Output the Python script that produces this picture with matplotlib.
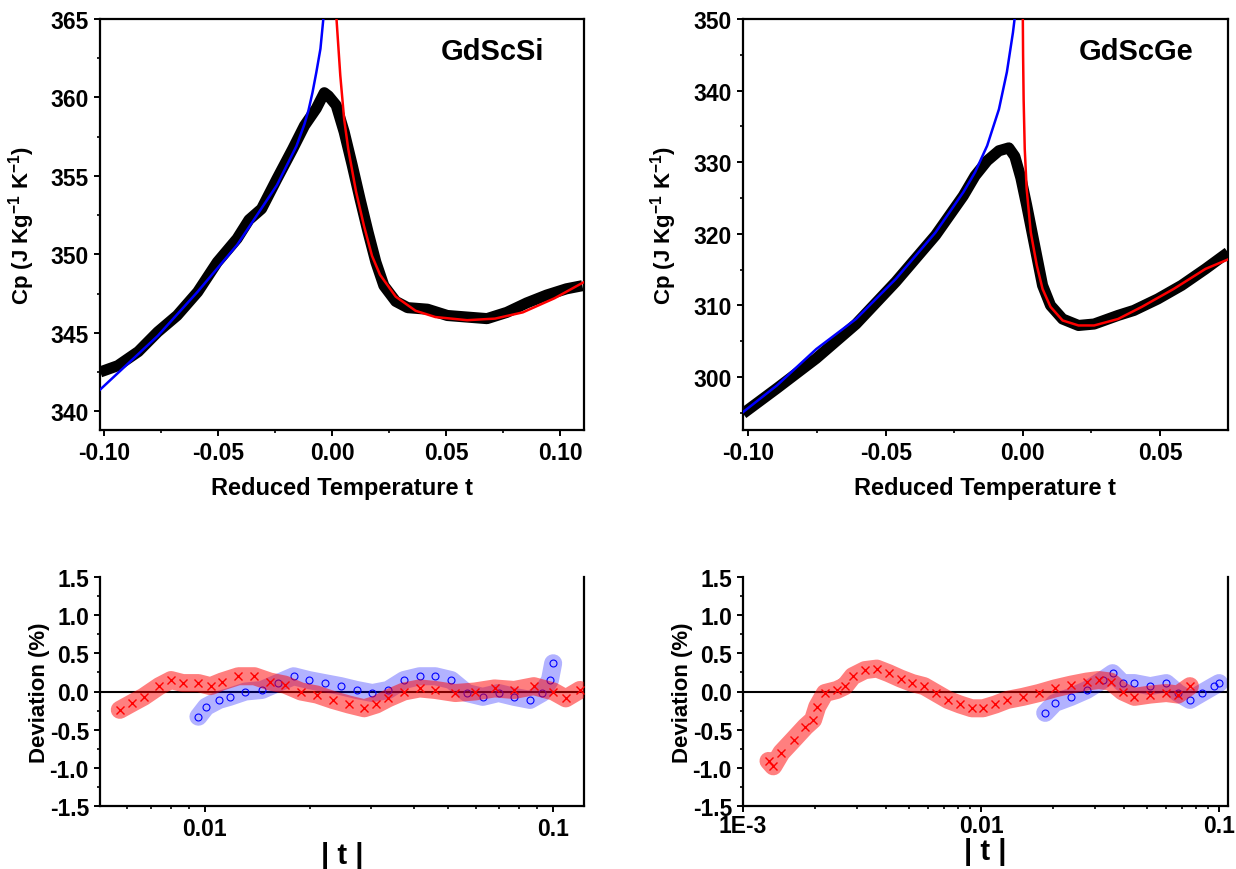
import matplotlib
matplotlib.use("Agg")
import matplotlib.pyplot as plt
from matplotlib.ticker import MultipleLocator, FixedLocator, FuncFormatter, FormatStrFormatter, NullFormatter, LogLocator

# GdScSi heat capacity (reduced temperature t, Cp)
si_t = [-0.1017, -0.094, -0.085, -0.0765, -0.068, -0.059, -0.0504, -0.0417, -0.0365, -0.031,
        -0.0243, -0.0174, -0.0122, -0.007, -0.0035, -0.0017, 0.0017, 0.0052, 0.0087, 0.0122,
        0.0157, 0.0191, 0.0226, 0.0278, 0.033, 0.0417, 0.0504, 0.059, 0.0678, 0.0765,
        0.0852, 0.0939, 0.1026, 0.1096]
si_cp = [342.5, 342.9, 343.8, 345.05, 346.1, 347.6, 349.5, 351.0, 352.2, 352.9,
         354.8, 356.7, 358.2, 359.3, 360.3, 360.1, 359.5, 357.8, 355.7, 353.5,
         351.4, 349.5, 348.0, 347.0, 346.6, 346.5, 346.1, 346.0, 345.9, 346.3,
         346.9, 347.4, 347.8, 348.0]
si_fit_lo_t = [-0.1023, -0.0765, -0.0591, -0.0417, -0.0243, -0.0157, -0.0122, -0.0104, -0.0087, -0.007, -0.0052, -0.0038]
si_fit_lo = [341.3, 344.8, 347.6, 350.6, 354.4, 356.9, 358.3, 359.2, 360.3, 361.6, 363.1, 365.2]
si_fit_hi_t = [0.0017, 0.0035, 0.0052, 0.007, 0.0104, 0.0139, 0.0174, 0.0209, 0.0278, 0.0365,
               0.0452, 0.0591, 0.0713, 0.0835, 0.0974, 0.1099]
si_fit_hi = [365.3, 361.4, 358.6, 356.7, 354.0, 351.8, 349.9, 348.7, 347.3, 346.4,
             346.0, 345.8, 345.9, 346.3, 347.2, 348.2]

# GdScGe heat capacity
ge_t = [-0.102, -0.0897, -0.0753, -0.0608, -0.0463, -0.0318, -0.0217, -0.0174, -0.013, -0.0087,
        -0.0051, -0.0029, -0.0007, 0.0014, 0.0043, 0.0072, 0.0101, 0.0145, 0.0203, 0.026,
        0.0347, 0.0405, 0.0492, 0.0579, 0.0666, 0.0748]
ge_cp = [294.9, 298.4, 302.6, 307.4, 313.3, 319.8, 325.3, 328.1, 330.2, 331.6,
         332.0, 330.8, 327.8, 324.0, 318.4, 312.8, 310.0, 308.1, 307.2, 307.4,
         308.6, 309.3, 310.9, 312.8, 315.1, 317.4]
ge_fit_lo_t = [-0.102, -0.0897, -0.0753, -0.0608, -0.0463, -0.0318, -0.0217, -0.0174, -0.013, -0.0087, -0.0058, -0.0036, -0.0029]
ge_fit_lo = [295.1, 298.8, 303.9, 308.1, 313.7, 320.2, 325.8, 328.6, 332.3, 337.4, 342.6, 348.1, 350.3]
ge_fit_hi_t = [0.0, 0.0001, 0.0003, 0.0007, 0.0014, 0.0029, 0.0051, 0.0072, 0.0101, 0.0145,
               0.0203, 0.026, 0.0347, 0.0434, 0.055, 0.0666, 0.0753]
ge_fit_hi = [350.3, 345.0, 338.8, 331.9, 326.3, 320.2, 315.6, 312.3, 309.8, 307.9,
             307.2, 307.2, 308.1, 309.8, 312.3, 315.1, 316.5]

# deviations (%) vs |t|, GdScSi
si_dev_lo_t = [0.0096, 0.0101, 0.011, 0.0118, 0.0131, 0.0146, 0.0162, 0.018, 0.0199, 0.0221,
               0.0246, 0.0273, 0.0303, 0.0336, 0.0373, 0.0414, 0.0459, 0.051, 0.0566, 0.0628,
               0.0697, 0.0773, 0.0858, 0.0929, 0.0979, 0.1]
si_dev_lo = [-0.33, -0.2, -0.11, -0.07, 0.0, 0.02, 0.11, 0.2, 0.15, 0.11,
             0.07, 0.02, -0.02, 0.02, 0.15, 0.2, 0.2, 0.15, -0.02, -0.07,
             -0.02, -0.07, -0.11, -0.02, 0.15, 0.37]
si_dev_hi_t = [0.00571, 0.0062, 0.00668, 0.00741, 0.00801, 0.00866, 0.0096, 0.0104, 0.0112, 0.0125,
               0.0139, 0.0154, 0.017, 0.0189, 0.021, 0.0233, 0.0259, 0.0287, 0.0311, 0.0336,
               0.0373, 0.0414, 0.0459, 0.0524, 0.0596, 0.0679, 0.0773, 0.088, 0.1002, 0.1087, 0.1193]
si_dev_hi = [-0.24, -0.15, -0.07, 0.07, 0.15, 0.11, 0.11, 0.07, 0.13, 0.2,
             0.2, 0.13, 0.09, 0.0, -0.04, -0.11, -0.17, -0.22, -0.17, -0.09,
             0.0, 0.04, 0.02, -0.02, 0.0, 0.04, 0.02, 0.07, 0.0, -0.09, 0.02]

# deviations (%) vs |t|, GdScGe
ge_dev_lo_t = [0.0186, 0.0204, 0.0239, 0.0278, 0.0324, 0.0357, 0.0393, 0.0441, 0.0514, 0.06,
               0.0672, 0.0754, 0.0845, 0.0948, 0.1]
ge_dev_lo = [-0.28, -0.15, -0.07, 0.02, 0.15, 0.24, 0.11, 0.11, 0.07, 0.11,
             -0.02, -0.11, -0.02, 0.07, 0.11]
ge_dev_hi_t = [0.00128, 0.00134, 0.00145, 0.00163, 0.00183, 0.00197, 0.00205, 0.00221, 0.00248, 0.00268,
               0.00289, 0.00325, 0.00365, 0.00409, 0.00459, 0.00515, 0.00577, 0.00647, 0.00726, 0.00815,
               0.00914, 0.0102, 0.0115, 0.0129, 0.015, 0.0175, 0.0204, 0.0239, 0.0278, 0.0312,
               0.035, 0.0393, 0.0441, 0.0514, 0.06, 0.0672, 0.0754]
ge_dev_hi = [-0.91, -0.98, -0.8, -0.63, -0.46, -0.37, -0.2, -0.02, 0.02, 0.07,
             0.2, 0.28, 0.3, 0.24, 0.17, 0.11, 0.07, -0.02, -0.11, -0.17,
             -0.22, -0.22, -0.17, -0.11, -0.07, -0.02, 0.04, 0.09, 0.13, 0.15,
             0.13, 0.0, -0.07, -0.04, -0.02, -0.04, 0.07]

plt.rcParams['font.family'] = 'Liberation Sans'
plt.rcParams['font.weight'] = 'bold'
plt.rcParams['mathtext.fontset'] = 'custom'
plt.rcParams['mathtext.bf'] = 'Liberation Sans:bold'
plt.rcParams['mathtext.rm'] = 'Liberation Sans:bold'
plt.rcParams['mathtext.default'] = 'bf'

fig = plt.figure(figsize=(12.36, 8.7), dpi=100)
W, H = 1236.0, 870.0


def box(x0, x1, y0, y1):
    return [x0 / W, 1 - y1 / H, (x1 - x0) / W, (y1 - y0) / H]


def style(ax, top=True):
    for s in ax.spines.values():
        s.set_linewidth(1.6)
    ax.spines['top'].set_visible(top)
    ax.tick_params(which='major', direction='out', length=4.5, width=1.4, labelsize=16.5, top=False, right=False)
    ax.tick_params(which='minor', direction='out', length=2.5, width=1.2, top=False, right=False)


ylab = r'Cp (J Kg$^{-1}$ K$^{-1}$)'

# top panels
tops = [
    (box(100, 584, 20, 431), si_t, si_cp, si_fit_lo_t, si_fit_lo, si_fit_hi_t, si_fit_hi,
     (-0.1018, 0.1103), (338.8, 365), 5, 'GdScSi'),
    (box(743, 1228, 20, 431), ge_t, ge_cp, ge_fit_lo_t, ge_fit_lo, ge_fit_hi_t, ge_fit_hi,
     (-0.102, 0.0748), (292.6, 350), 10, 'GdScGe'),
]
for pos, t, cp, lt, lc, ht, hc, xl, yl, ystep, name in tops:
    ax = fig.add_axes(pos)
    ax.plot(t, cp, color='black', lw=8, solid_joinstyle='round', solid_capstyle='butt', zorder=2)
    ax.plot(lt, lc, color='#0000ff', lw=1.8, zorder=3)
    ax.plot(ht, hc, color='#ff0000', lw=1.8, zorder=3)
    ax.set_xlim(xl)
    ax.set_ylim(yl)
    ax.xaxis.set_major_locator(MultipleLocator(0.05))
    ax.xaxis.set_minor_locator(MultipleLocator(0.025))
    ax.xaxis.set_major_formatter(FormatStrFormatter('%.2f'))
    ax.yaxis.set_major_locator(MultipleLocator(ystep))
    ax.yaxis.set_minor_locator(MultipleLocator(ystep / 2))
    style(ax, True)
    ax.set_xlabel('Reduced Temperature t', fontsize=17, fontweight='bold')
    ax.xaxis.set_label_coords(0.5, -0.112)
    ax.set_ylabel(ylab, fontsize=16, fontweight='bold')
    ax.yaxis.set_label_coords(-0.131, 0.5)
    ax.text(0.81, 0.922, name, transform=ax.transAxes, fontsize=21, fontweight='bold',
            ha='center', va='center')

# bottom panels
bots = [
    (box(100, 584, 578, 807), si_dev_lo_t, si_dev_lo, si_dev_hi_t, si_dev_hi, (0.00501, 0.1226),
     [0.01, 0.1], ['0.01', '0.1']),
    (box(743, 1228, 578, 807), ge_dev_lo_t, ge_dev_lo, ge_dev_hi_t, ge_dev_hi, (0.001, 0.109),
     [0.001, 0.01, 0.1], ['1E-3', '0.01', '0.1']),
]
for i, (pos, lt, ld, ht, hd, xl, xt, xtl) in enumerate(bots):
    ax = fig.add_axes(pos)
    ax.axhline(0, color='black', lw=1.5, zorder=1)
    ax.plot(lt, ld, color='#0000ff', lw=13, alpha=0.3, solid_capstyle='round', zorder=2)
    ax.plot(lt, ld, 'o', mfc='none', mec='#0000ff', ms=5, mew=0.8, zorder=3)
    ax.plot(ht, hd, color='#ff0000', lw=13, alpha=0.5, solid_capstyle='round', zorder=4)
    ax.plot(ht, hd, 'x', color='#ff0000', ms=6, mew=1.0, zorder=5)
    ax.set_xscale('log')
    ax.set_xlim(xl)
    ax.set_ylim(-1.5, 1.5)
    ax.xaxis.set_major_locator(FixedLocator(xt))
    ax.xaxis.set_major_formatter(FuncFormatter(lambda v, p, xt=xt, xtl=xtl: xtl[xt.index(v)] if v in xt else ''))
    ax.xaxis.set_minor_locator(LogLocator(base=10, subs=range(2, 10)))
    ax.xaxis.set_minor_formatter(NullFormatter())
    ax.yaxis.set_major_locator(MultipleLocator(0.5))
    ax.yaxis.set_minor_locator(MultipleLocator(0.25))
    ax.yaxis.set_major_formatter(FormatStrFormatter('%.1f'))
    style(ax, False)
    if i == 1:
        ax.tick_params(axis='x', which='major', pad=1)
    ax.set_xlabel('| t |', fontsize=21, fontweight='bold')
    ax.xaxis.set_label_coords(0.5, -0.155 if i == 0 else -0.135)
    ax.set_ylabel('Deviation (%)', fontsize=16, fontweight='bold')
    ax.yaxis.set_label_coords(-0.103, 0.5)

fig.savefig('out.png', dpi=100)
